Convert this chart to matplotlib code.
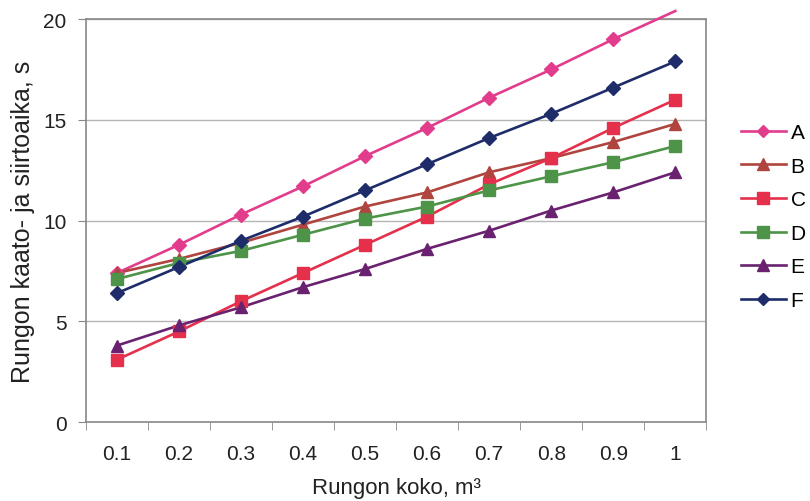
import matplotlib
matplotlib.use("Agg")
import matplotlib.pyplot as plt
import numpy as np

plt.rcParams['font.family'] = ['Liberation Sans', 'DejaVu Sans']

sizes = ['0.1', '0.2', '0.3', '0.4', '0.5', '0.6', '0.7', '0.8', '0.9', '1']
a = [7.4, 8.8, 10.3, 11.7, 13.2, 14.6, 16.1, 17.5, 19.0, 20.4]
b = [7.4, 8.1, 8.9, 9.8, 10.7, 11.4, 12.4, 13.1, 13.9, 14.8]
c = [3.1, 4.5, 6.0, 7.4, 8.8, 10.2, 11.8, 13.1, 14.6, 16.0]
d = [7.1, 7.9, 8.5, 9.3, 10.1, 10.7, 11.5, 12.2, 12.9, 13.7]
e = [3.8, 4.8, 5.7, 6.7, 7.6, 8.6, 9.5, 10.5, 11.4, 12.4]
f = [6.4, 7.7, 9.0, 10.2, 11.5, 12.8, 14.1, 15.3, 16.6, 17.9]

names = ['A', 'B', 'C', 'D', 'E', 'F']
series = [a, b, c, d, e, f]
colors = ['#E23C8C', '#B0443E', '#E5304C', '#4E9448', '#6A2270', '#1E2C6A']
markers = ['D', '^', 's', 's', '^', 'D']
msizes = [7, 9, 9, 9, 9, 7]

fig = plt.figure(figsize=(8.1, 5.02), dpi=100)
ax = fig.add_axes([0.106, 0.157, 0.766, 0.803])

x = np.arange(len(sizes))
for vals, name, col, mk, ms in zip(series, names, colors, markers, msizes):
    vals = np.array(vals)
    inside = vals <= 20
    ax.plot(x, vals, color=col, lw=1.9, clip_on=False, zorder=3)
    ax.plot(x[inside], vals[inside], ls='none', marker=mk, ms=ms, color=col,
            clip_on=False, zorder=4)
    ax.plot([], [], color=col, lw=1.9, marker=mk, ms=ms - 1, label=name)

ax.set_xlim(-0.5, len(sizes) - 0.5)
ax.set_ylim(0, 20)
ax.set_yticks([0, 5, 10, 15, 20])
ax.set_xticks(x)
ax.set_xticklabels(sizes)
ax.set_xticks(np.arange(len(sizes) + 1) - 0.5, minor=True)
ax.tick_params(axis='x', which='major', length=0, pad=16, labelsize=15, labelcolor='#222222')
ax.tick_params(axis='x', which='minor', length=6, color='#888888', direction='out')
ax.tick_params(axis='y', length=6, color='#888888', labelsize=15, labelcolor='#222222', pad=8)
ax.grid(axis='y', color='#b5b5b5', lw=1)
ax.set_axisbelow(True)
for s in ax.spines.values():
    s.set_color('#888888')
    s.set_linewidth(1.2)

ax.set_xlabel('Rungon koko, m³', fontsize=16, color='#222222', labelpad=10)
ax.set_ylabel('Rungon kaato- ja siirtoaika, s', fontsize=18, color='#222222', labelpad=6)

ax.legend(loc='center left', bbox_to_anchor=(1.025, 0.51), frameon=False,
          fontsize=15, handlelength=2.2, labelspacing=0.7, handletextpad=0.2)

fig.savefig('out.png', dpi=100)
